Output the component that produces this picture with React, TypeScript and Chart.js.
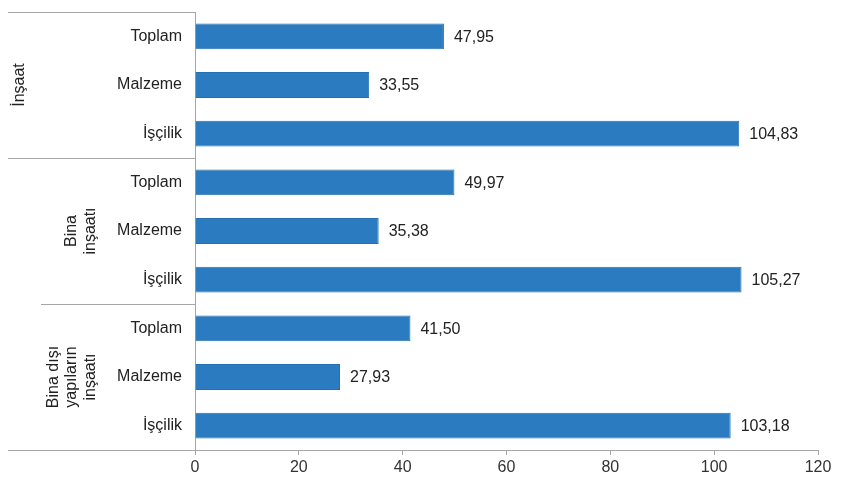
import React, { useEffect, useRef } from "react";
import { Chart, registerables } from "chart.js";

Chart.register(...registerables);

const categories = ["Toplam", "Malzeme", "İşçilik", "Toplam", "Malzeme", "İşçilik", "Toplam", "Malzeme", "İşçilik"];
const values = [47.95, 33.55, 104.83, 49.97, 35.38, 105.27, 41.5, 27.93, 103.18];
const groupLabels = [["İnşaat"], ["Bina", "inşaatı"], ["Bina dışı", "yapıların", "inşaatı"]];
const groupSize = 3;

const FONT = "'Liberation Sans', Arial, sans-serif";

const decor = {
  id: "decor",
  afterDatasetsDraw(chart: any) {
    const { ctx, chartArea } = chart;
    const y = chart.scales.y;
    const meta = chart.getDatasetMeta(0);
    ctx.save();
    // data labels
    ctx.font = `16px ${FONT}`;
    ctx.fillStyle = "#222";
    ctx.textAlign = "left";
    ctx.textBaseline = "middle";
    meta.data.forEach((bar: any, i: number) => {
      const txt = values[i].toFixed(2).replace(".", ",");
      ctx.fillText(txt, bar.x + 10, bar.y + 1);
    });
    // separators
    ctx.strokeStyle = "#a6a6a6";
    ctx.lineWidth = 1;
    const lineAt = (yy: number, x0: number) => {
      ctx.beginPath();
      ctx.moveTo(x0, Math.round(yy) + 0.5);
      ctx.lineTo(chartArea.left, Math.round(yy) + 0.5);
      ctx.stroke();
    };
    lineAt(chartArea.top, 8);
    const bounds: number[] = [chartArea.top];
    for (let g = 1; g < groupLabels.length; g++) {
      const yy = (y.getPixelForValue(g * groupSize - 1) + y.getPixelForValue(g * groupSize)) / 2;
      bounds.push(yy);
      lineAt(yy, g === 1 ? 8 : 41);
    }
    bounds.push(chartArea.bottom);
    lineAt(chartArea.bottom, 8);
    // group labels
    ctx.font = `16px ${FONT}`;
    ctx.fillStyle = "#222";
    ctx.textAlign = "center";
    ctx.textBaseline = "middle";
    const centersX = [20, 81, 72];
    const lh = 18.5;
    groupLabels.forEach((lines, g) => {
      const cy = (bounds[g] + bounds[g + 1]) / 2;
      const cx = centersX[g];
      ctx.save();
      ctx.translate(cx, cy);
      ctx.rotate(-Math.PI / 2);
      lines.forEach((ln, k) => {
        const off = (k - (lines.length - 1) / 2) * lh;
        ctx.fillText(ln, 0, off);
      });
      ctx.restore();
    });
    ctx.restore();
  },
};

export default function App() {
  const ref = useRef<HTMLCanvasElement>(null);
  useEffect(() => {
    const chart = new Chart(ref.current!, {
      type: "bar",
      data: {
        labels: categories,
        datasets: [
          {
            data: values,
            backgroundColor: "#2a7bc0",
            borderColor: "#2470b0",
            borderWidth: 1,
            barPercentage: 0.53,
            categoryPercentage: 1,
          },
        ],
      },
      options: {
        indexAxis: "y",
        animation: false,
        responsive: false,
        maintainAspectRatio: false,
        layout: { padding: { left: 0, top: 12, right: 32, bottom: 0 } },
        plugins: { legend: { display: false }, tooltip: { enabled: false } },
        scales: {
          x: {
            min: 0,
            max: 120,
            ticks: { stepSize: 20, color: "#333", font: { family: FONT, size: 16 }, padding: 3 },
            grid: { drawOnChartArea: false, drawTicks: true, tickLength: 5, color: "#a6a6a6" },
            border: { display: true, color: "#a6a6a6" },
            afterFit: (s: any) => {
              s.height = 28;
              s.paddingLeft = 0;
              s.paddingRight = 0;
            },
          },
          y: {
            ticks: { color: "#222", font: { family: FONT, size: 16 }, padding: 13 },
            grid: { display: false, drawTicks: false },
            border: { display: true, color: "#a6a6a6" },
            afterFit: (s: any) => {
              s.width = 195;
              s.paddingTop = 0;
              s.paddingBottom = 0;
            },
          },
        },
      },
      plugins: [decor],
    } as any);
    return () => chart.destroy();
  }, []);
  return (
    <div style={{ position: "fixed", left: 0, top: 0, width: 850, height: 478, background: "#fff" }}>
      <canvas ref={ref} width={850} height={478} style={{ width: 850, height: 478 }} />
    </div>
  );
}
